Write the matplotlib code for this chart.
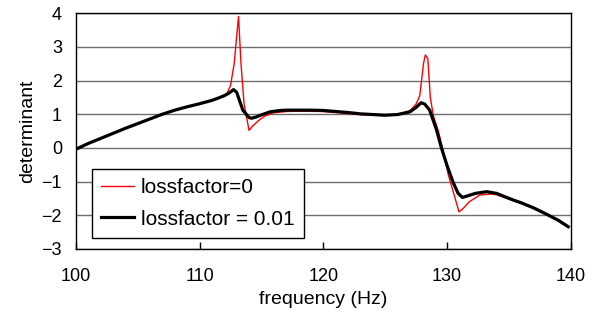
import matplotlib
matplotlib.use("Agg")
import matplotlib.pyplot as plt

plt.rcParams['font.family'] = ['Liberation Sans', 'DejaVu Sans']

# lossfactor = 0.01 (black)
freq_damped = [100, 101, 102, 103, 104, 105, 106, 107, 108, 109, 110,
               111, 111.6, 112, 112.4, 112.75, 113.0, 113.5, 114.0, 114.2, 114.6,
               115, 115.7, 116.5, 117, 118, 119, 120, 121, 122, 123, 124, 125,
               126, 127, 127.5, 127.9, 128.2, 128.6, 129.15, 129.55, 130,
               130.5, 130.9, 131.25, 131.7, 132.3, 133.2, 134, 135.3, 136, 137, 138,
               139, 139.8]
det_damped = [-0.04, 0.13, 0.28, 0.43, 0.58, 0.72, 0.86, 1.00, 1.12, 1.22, 1.31,
              1.41, 1.49, 1.55, 1.63, 1.73, 1.65, 1.12, 0.90, 0.88, 0.92,
              0.98, 1.07, 1.11, 1.12, 1.12, 1.12, 1.11, 1.08, 1.05, 1.01, 0.99, 0.97,
              0.99, 1.07, 1.20, 1.34, 1.30, 1.12, 0.54, 0.00, -0.52,
              -1.03, -1.35, -1.47, -1.42, -1.35, -1.30, -1.35, -1.54, -1.63, -1.78, -1.96,
              -2.15, -2.34]

# lossfactor = 0 (red)
freq_undamped = [100, 101, 102, 103, 104, 105, 106, 107, 108, 109, 110,
                 111, 111.6, 112.2, 112.5, 112.8, 113.0, 113.15, 113.35, 113.6, 114.0,
                 114.3, 114.8, 115.3, 116, 117, 118, 120, 121, 122, 123, 124, 125,
                 126, 127, 127.5, 127.8, 128.1, 128.25, 128.45, 128.65, 128.9,
                 129.3, 129.7, 130.1, 130.5, 130.97, 131.3, 131.8, 132.65, 133.5,
                 134, 135.3, 136, 137, 138, 139, 139.8]
det_undamped = [-0.07, 0.13, 0.28, 0.43, 0.58, 0.72, 0.86, 1.00, 1.12, 1.22, 1.31,
                1.41, 1.49, 1.60, 1.85, 2.50, 3.30, 3.90, 2.50, 1.30, 0.52,
                0.65, 0.82, 0.95, 1.04, 1.08, 1.09, 1.08, 1.05, 1.02, 0.99, 0.97, 0.96,
                0.99, 1.10, 1.30, 1.55, 2.50, 2.76, 2.65, 1.50, 0.95,
                0.50, -0.10, -0.79, -1.30, -1.90, -1.80, -1.60, -1.40, -1.37,
                -1.39, -1.56, -1.65, -1.80, -1.98, -2.17, -2.35]

fig = plt.figure(figsize=(5.97, 3.2), dpi=100)
ax = fig.add_axes([0.127, 0.222, 0.829, 0.737])

ax.plot(freq_undamped, det_undamped, color='red', lw=1.0, label='lossfactor=0', zorder=3)
ax.plot(freq_damped, det_damped, color='black', lw=2.3, label='lossfactor = 0.01', zorder=4)

ax.set_xlim(100, 140)
ax.set_ylim(-3, 4)
ax.set_xticks([100, 110, 120, 130, 140])
ax.set_yticks(range(-3, 5))
ax.set_yticklabels(['\u22123', '\u22122', '\u22121', '0', '1', '2', '3', '4'])

ax.yaxis.grid(True, color='#6e6e6e', lw=1.0)
ax.set_axisbelow(True)
ax.tick_params(axis='x', direction='in', length=5, width=1, pad=14, labelsize=13)
ax.tick_params(axis='y', length=0, pad=10, labelsize=13)
for s in ax.spines.values():
    s.set_color('black')
    s.set_linewidth(1.0)

ax.set_xlabel('frequency (Hz)', fontsize=14, labelpad=4)
ax.set_ylabel('determinant', fontsize=14, labelpad=4)

leg = ax.legend(loc='lower left', bbox_to_anchor=(0.032, 0.047), borderaxespad=0,
                fontsize=15, frameon=True, fancybox=False, handlelength=1.6,
                handletextpad=0.3, labelspacing=0.6, borderpad=0.45)
leg.get_frame().set_edgecolor('black')
leg.get_frame().set_linewidth(1.0)
leg.get_frame().set_alpha(1)

fig.savefig('out.png', dpi=100)
